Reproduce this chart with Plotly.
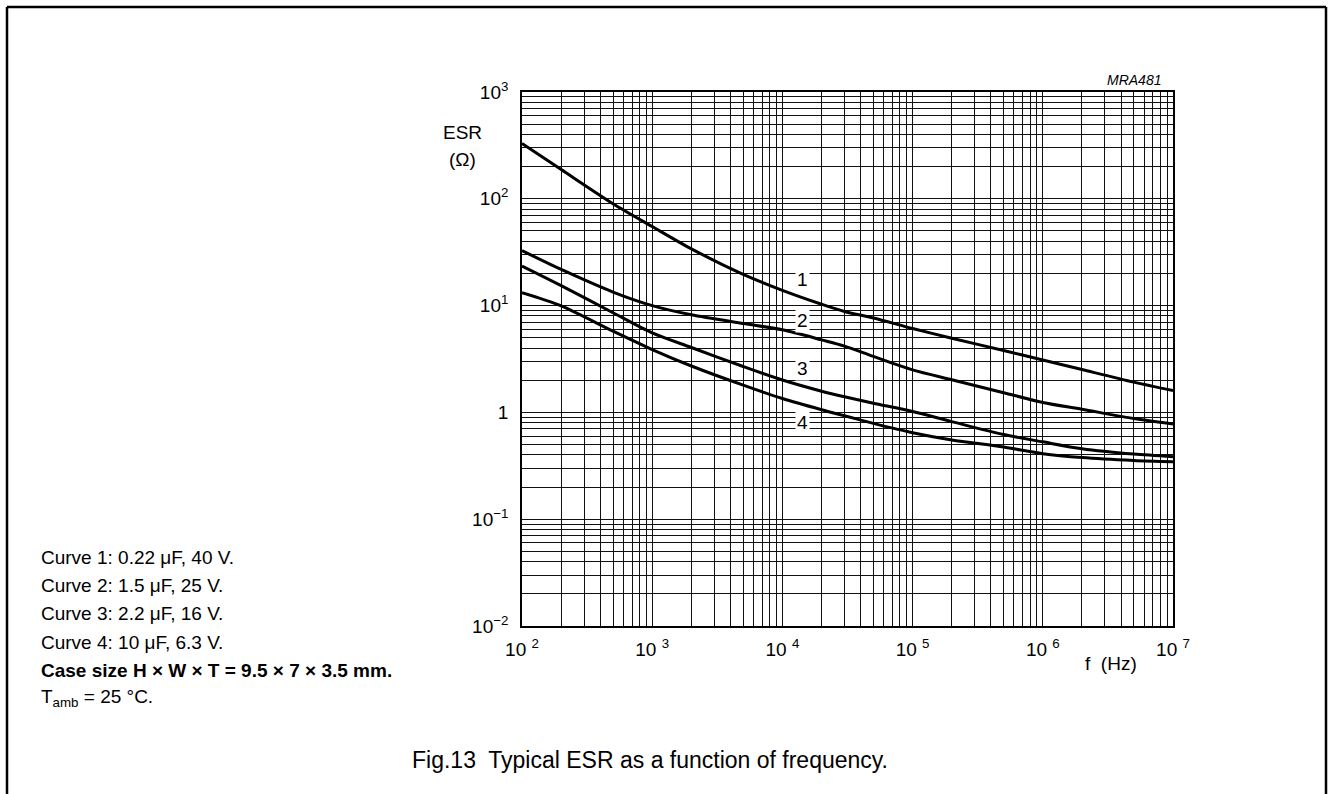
import plotly.graph_objects as go
import math

# ---- data ----
freq = [100, 200, 500, 1e3, 2e3, 5e3, 1e4, 2e4, 3e4, 5e4, 1e5, 2e5, 5e5, 1e6, 2e6, 5e6, 1e7]
esr_curve1 = [330, 188, 90, 55, 34, 19.6, 13.9, 10.3, 8.8, 7.65, 6.1, 4.95, 3.8, 3.1, 2.52, 1.92, 1.6]
esr_curve2 = [32.7, 21.8, 13.4, 10.0, 8.2, 6.8, 5.93, 4.78, 4.18, 3.34, 2.5, 2.02, 1.53, 1.24, 1.07, 0.875, 0.78]
esr_curve3 = [23.5, 15.4, 8.57, 5.55, 4.05, 2.69, 2.01, 1.58, 1.4, 1.22, 1.02, 0.82, 0.62, 0.53, 0.457, 0.407, 0.385]
esr_curve4 = [13.2, 9.93, 5.76, 3.88, 2.72, 1.8, 1.35, 1.06, 0.93, 0.79, 0.646, 0.552, 0.474, 0.411, 0.378, 0.355, 0.345]
curve_names = ["1", "2", "3", "4"]
label_freq = 1.43e4
label_esr = [17.4, 7.3, 2.6, 0.81]

x_decades = [2, 3, 4, 5, 6, 7]
y_decades = [-2, -1, 0, 1, 2, 3]
x_decade_text = ["10 <sup>2</sup>", "10 <sup>3</sup>", "10 <sup>4</sup>", "10 <sup>5</sup>", "10 <sup>6</sup>", "10 <sup>7</sup>"]
y_decade_text = ["10<sup>\u22122</sup>", "10<sup>\u22121</sup>", "1", "10<sup>1</sup>", "10<sup>2</sup>", "10<sup>3</sup>"]

notes = [
    "Curve 1: 0.22 \u03bcF, 40 V.",
    "Curve 2: 1.5 \u03bcF, 25 V.",
    "Curve 3: 2.2 \u03bcF, 16 V.",
    "Curve 4: 10 \u03bcF, 6.3 V.",
    "<b>Case size H \u00d7 W \u00d7 T = 9.5 \u00d7 7 \u00d7 3.5 mm.</b>",
    "T<sub>amb</sub> = 25 \u00b0C.",
]
caption = "Fig.13  Typical ESR as a function of frequency."

# ---- layout geometry (pixels) ----
W, H = 1329, 794
L, R, T, B = 522, 1173, 92, 626
pw, ph = R - L, B - T


def px(xpix):
    return (xpix - L) / pw


def py(ypix):
    return (B - ypix) / ph


def grid_vals(decades):
    vals, texts = [], []
    for i, d in enumerate(decades):
        vals.append(10 ** d)
        texts.append(None)
        if i < len(decades) - 1:
            for m in range(2, 10):
                vals.append(m * 10 ** d)
                texts.append("")
    return vals, texts


xv, xt = grid_vals(x_decades)
yv, yt = grid_vals(y_decades)
k = 0
for i, t in enumerate(xt):
    if t is None:
        xt[i] = x_decade_text[k]
        k += 1
k = 0
for i, t in enumerate(yt):
    if t is None:
        yt[i] = y_decade_text[k]
        k += 1

FONT = "Liberation Sans, Arial, Helvetica, sans-serif"

fig = go.Figure()
for ys in [esr_curve1, esr_curve2, esr_curve3, esr_curve4]:
    fig.add_trace(go.Scatter(x=freq, y=ys, mode="lines",
                             line=dict(color="black", width=3, shape="spline", smoothing=0.8),
                             hoverinfo="skip"))

axis_common = dict(type="log", showgrid=True, gridcolor="#111111", gridwidth=1.4,
                   showline=True, mirror=True, linecolor="black", linewidth=1.6,
                   ticks="", zeroline=False, tickmode="array",
                   tickfont=dict(family=FONT, size=19, color="black"))

fig.update_layout(
    width=W, height=H,
    margin=dict(l=L, r=W - R, t=T, b=H - B, autoexpand=False),
    paper_bgcolor="white", plot_bgcolor="white",
    showlegend=False,
    xaxis=dict(range=[2, 7], tickvals=xv, ticktext=xt, ticklabelstandoff=5, **axis_common),
    yaxis=dict(range=[-2, 3], tickvals=yv, ticktext=yt, ticklabelstandoff=8, **axis_common),
)

ann = []
for name, v in zip(curve_names, label_esr):
    ann.append(dict(x=math.log10(label_freq), y=math.log10(v), xref="x", yref="y",
                    text=name, showarrow=False, bgcolor="white", borderpad=1,
                    font=dict(family=FONT, size=19, color="black")))

ann.append(dict(x=px(462), y=py(133), xref="paper", yref="paper", text="ESR", showarrow=False,
                xanchor="center", yanchor="middle", font=dict(family=FONT, size=19, color="black")))
ann.append(dict(x=px(462), y=py(159), xref="paper", yref="paper", text="(\u03a9)", showarrow=False,
                xanchor="center", yanchor="middle", font=dict(family=FONT, size=19, color="black")))
ann.append(dict(x=px(1111), y=py(663), xref="paper", yref="paper", text="f  (Hz)", showarrow=False,
                xanchor="center", yanchor="middle", font=dict(family=FONT, size=19, color="black")))
ann.append(dict(x=px(1163), y=py(80), xref="paper", yref="paper", text="<i>MRA481</i>", showarrow=False,
                xanchor="right", yanchor="middle", font=dict(family=FONT, size=14, color="black")))
ann.append(dict(x=px(650), y=py(760), xref="paper", yref="paper", text=caption, showarrow=False,
                xanchor="center", yanchor="middle", font=dict(family=FONT, size=23, color="black")))

note_y = [557, 585, 613, 642, 670, 698]
for t, yy in zip(notes, note_y):
    ann.append(dict(x=px(39), y=py(yy), xref="paper", yref="paper", text=t, showarrow=False,
                    xanchor="left", yanchor="middle", font=dict(family=FONT, size=19, color="black")))

fig.update_layout(annotations=ann)

# page frame
bl, br, bt, bb = px(7), px(1326), py(7), py(810)
frame = dict(type="line", xref="paper", yref="paper", line=dict(color="black", width=2.5))
fig.update_layout(shapes=[
    dict(frame, x0=bl, x1=br, y0=bt, y1=bt),
    dict(frame, x0=bl, x1=bl, y0=bb, y1=bt),
    dict(frame, x0=br, x1=br, y0=bb, y1=bt),
])

fig.write_html("out.html")
